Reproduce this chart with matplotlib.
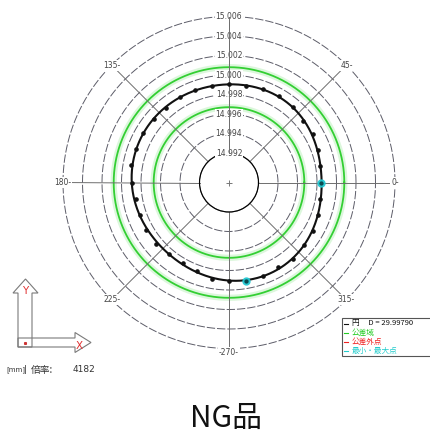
import numpy as np
import matplotlib
matplotlib.use("Agg")
import matplotlib.pyplot as plt
from matplotlib.patches import Polygon, Rectangle

plt.rcParams['font.family'] = ['DejaVu Sans', 'Noto Sans CJK JP']
plt.rcParams['lines.scale_dashes'] = False

# ---- measurement data (radius in mm at each measuring angle, deg) ----
angles_deg = list(range(0, 360, 10))
radii_mm = [14.99844, 14.99846, 14.99865, 14.99893, 14.99882, 14.99912,
            14.99916, 14.99913, 14.99902, 14.99905, 14.99903, 14.99912,
            14.99908, 14.99895, 14.99903, 14.99916, 14.99917, 14.99913,
            14.99889, 14.99864, 14.99870, 14.99877, 14.99876, 14.99849,
            14.99846, 14.99867, 14.99900, 14.99911, 14.99919, 14.99917,
            14.99904, 14.99916, 14.99902, 14.99893, 14.99867, 14.99850]

ring_values = [14.992, 14.994, 14.996, 14.998, 15.000, 15.002, 15.004, 15.006]
ring_labels = ["14.992", "14.994", "14.996", "14.998",
               "15.000", "15.002", "15.004", "15.006"]
tol_lower, tol_upper = 14.9967, 15.0008
spoke_angles = [0, 45, 90, 135, 180, 225, 270, 315]
spoke_labels = {0: "0-", 45: "45-", 135: "135-", 180: "180-",
                225: "225-", 270: "-270-", 315: "315-"}
legend_items = [("円     D = 29.99790", "#111111"),
                ("公差域", "#22cc22"),
                ("公差外点", "#ee2222"),
                ("最小・最大点", "#22cccc")]
magnification = 4182
title_text = "NG品"

W, H = 431, 442
fig = plt.figure(figsize=(W / 100, H / 100), dpi=100)
fig.patch.set_facecolor("white")

# polar chart, centre at (229, 182.5) px, outer ring radius 166 px
cx, cy, R = 229, 182.5, 166
ax = fig.add_axes([(cx - R) / W, (H - cy - R) / H, 2 * R / W, 2 * R / H],
                  projection="polar")
rmin, rmax = ring_values[0], ring_values[-1]
inner_px = 29.5
ax.set_ylim(rmin, rmax)
ax.set_rorigin(rmin - inner_px * (rmax - rmin) / (R - inner_px))
ax.grid(False)
ax.set_xticks([])
ax.set_yticks([])
ax.spines["polar"].set_visible(False)
ax.set_facecolor("white")

full = np.linspace(0, 2 * np.pi, 721)
ring_col = "#5c5c68"

# tolerance band circles (soft halo + line)
for tv in (tol_lower, tol_upper):
    ax.plot(full, np.full_like(full, tv), color="#dcf7dc", lw=4.5,
            solid_capstyle="butt", zorder=1)
    ax.plot(full, np.full_like(full, tv), color="#33cf33", lw=1.3, zorder=2)

# reference rings
for i, rv in enumerate(ring_values):
    if i == 0:
        ax.plot(full, np.full_like(full, rv), color="#777777", lw=0.8,
                zorder=2, clip_on=False)
    else:
        ax.plot(full, np.full_like(full, rv), color=ring_col, lw=0.7,
                linestyle=(0, (6, 1.4)), zorder=2, clip_on=False)

# spokes
for a in spoke_angles:
    t = np.deg2rad(a)
    ax.plot([t, t], [rmin, rmax], color="#6e6e6e", lw=0.7, zorder=2,
            clip_on=False)

# ring value labels along the 90 deg spoke
for rv, lab in zip(ring_values, ring_labels):
    ax.text(np.pi / 2, rv, lab, fontsize=5.5, color="#444444", ha="center",
            va="center", zorder=3, clip_on=False,
            bbox=dict(boxstyle="square,pad=0.12", fc="white", ec="none"))
ax.plot([np.pi / 2, np.pi / 2], [rmin, rmax], color="#6e6e6e", lw=0.7,
        zorder=3.5, clip_on=False)

# angle labels
for a, lab in spoke_labels.items():
    rr = rmax + (0.0004 if a == 270 else 0.0)
    ax.text(np.deg2rad(a), rr, lab, fontsize=5.5, color="#444444", ha="center",
            va="center", zorder=4, clip_on=False,
            bbox=dict(boxstyle="square,pad=0.12", fc="white", ec="none"))

# centre mark
ax.plot([0], [ax.get_rorigin()], marker="+", color="#777777", ms=5, mew=0.7,
        clip_on=False, zorder=4)

# smoothed profile from low-order harmonics of the measured radii
th = np.deg2rad(np.array(angles_deg, dtype=float))
rv_arr = np.array(radii_mm)
n = len(rv_arr)
coef = np.fft.rfft(rv_arr)
prof = np.full_like(full, coef[0].real / n)
for k in range(1, 6):
    prof += 2.0 / n * (coef[k].real * np.cos(k * full) - coef[k].imag * np.sin(k * full))
ax.plot(full, prof, color="#111111", lw=1.5, zorder=5)
ax.plot(th, rv_arr, linestyle="none", marker="o", ms=2.3, color="#111111",
        zorder=6)

# min / max points
i_min, i_max = int(np.argmin(rv_arr)), int(np.argmax(rv_arr))
for i in (i_min, i_max):
    ax.plot([th[i]], [rv_arr[i]], marker="o", ms=5, color="#22c8d2",
            mec="#22c8d2", alpha=0.9, zorder=7)
    ax.plot([th[i]], [rv_arr[i]], marker="o", ms=2, color="#0a4a50", zorder=8)

# ---- overlay in pixel coordinates: axis icon, scale text, legend, title ----
ov = fig.add_axes([0, 0, 1, 1])
ov.set_xlim(0, W)
ov.set_ylim(H, 0)
ov.axis("off")
ov.patch.set_visible(False)

jp = ['Noto Sans CJK JP', 'DejaVu Sans']
icon_col = "#7a7a7a"
ov.add_patch(Polygon([(18, 347), (18, 293), (13, 293), (25.5, 279), (38, 293),
                      (32, 293), (32, 347)], closed=True, fill=False,
                     ec=icon_col, lw=0.8))
ov.add_patch(Polygon([(18, 338), (75, 338), (75, 332.5), (91, 342.5),
                      (75, 352.5), (75, 347), (18, 347)], closed=True,
                     fill=False, ec=icon_col, lw=0.8))
ov.plot([25], [343], marker="s", ms=1.2, color="#cc3333")
ov.text(25.5, 291, "Y", color="#e03030", fontsize=7.5, ha="center", va="center")
ov.text(79, 346, "X", color="#e03030", fontsize=7.5, ha="center", va="center")

# scale caption
ov.text(6, 370, "[mm]", fontsize=5, color="#333333", ha="left", va="center")
ov.text(24, 370, "|", fontsize=6.5, color="#333333", ha="left", va="center")
ov.text(31, 370, "倍率:", fontsize=7, color="#333333", ha="left", va="center",
        family=jp)
ov.text(73, 370, f"{magnification}", fontsize=6.5, color="#333333", ha="left",
        va="center")

ov.add_patch(Rectangle((342, 318), 100, 38, fill=True, fc="white",
                       ec="#555555", lw=0.8, clip_on=False))
for j, (lab, col) in enumerate(legend_items):
    yy = 323.5 + j * 9.3
    ov.plot([344, 348], [yy, yy], color=col, lw=0.8)
    ov.text(352, yy, lab, fontsize=5.5, color=col, ha="left", va="center",
            family=jp)

ov.text(226, 418, title_text, fontsize=21.5, color="#111111", ha="center",
        va="center", family=jp)

fig.savefig("out.png", dpi=100, facecolor="white")
